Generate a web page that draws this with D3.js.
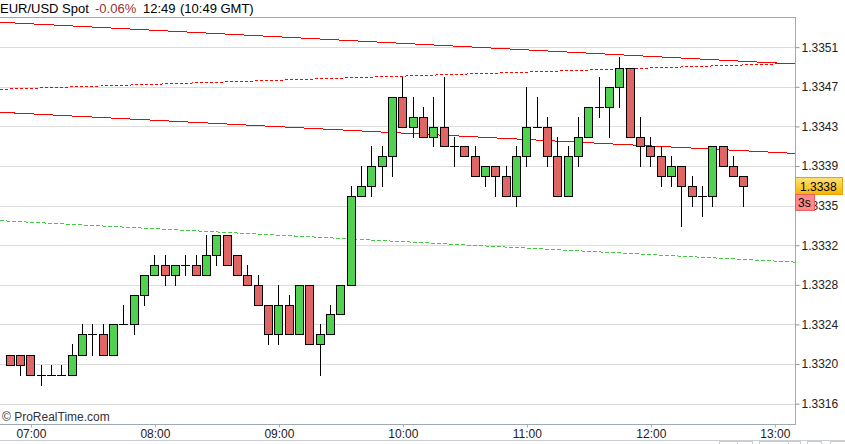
<!DOCTYPE html>
<html><head><meta charset="utf-8">
<script src="https://cdn.jsdelivr.net/npm/d3@7"></script>
<style>
body{margin:0;background:#fff;}
svg{display:block;font-family:"Liberation Sans",Arial,sans-serif;}
</style>
</head><body>
<svg id="c" width="845" height="444"></svg>
<script>
// ---------- DATA ----------
const times = ["06:50","06:55","07:00","07:05","07:10","07:15","07:20","07:25","07:30","07:35","07:40","07:45","07:50","07:55",
"08:00","08:05","08:10","08:15","08:20","08:25","08:30","08:35","08:40","08:45","08:50","08:55",
"09:00","09:05","09:10","09:15","09:20","09:25","09:30","09:35","09:40","09:45","09:50","09:55",
"10:00","10:05","10:10","10:15","10:20","10:25","10:30","10:35","10:40","10:45","10:50","10:55",
"11:00","11:05","11:10","11:15","11:20","11:25","11:30","11:35","11:40","11:45","11:50","11:55",
"12:00","12:05","12:10","12:15","12:20","12:25","12:30","12:35","12:40","12:45"];
const opens = [1.33211,1.33211,1.33211,1.33191,1.33191,1.33191,1.33191,1.33211,1.33231,1.33231,1.33211,1.33241,1.33241,1.33270,
1.33290,1.33300,1.33290,1.33300,1.33300,1.33290,1.33310,1.33330,1.33310,1.33290,1.33280,1.33260,
1.33231,1.33260,1.33231,1.33280,1.33221,1.33231,1.33251,1.33280,1.33369,1.33379,1.33399,1.33409,
1.33468,1.33438,1.33448,1.33428,1.33438,1.33419,1.33419,1.33409,1.33389,1.33399,1.33389,1.33369,
1.33409,1.33438,1.33438,1.33409,1.33369,1.33409,1.33428,1.33458,1.33458,1.33478,1.33497,1.33428,
1.33419,1.33409,1.33389,1.33399,1.33379,1.33369,1.33369,1.33419,1.33399,1.33389];
const highs = [1.33211,1.33211,1.33211,1.33201,1.33201,1.33201,1.33221,1.33241,1.33241,1.33241,1.33241,1.33260,1.33270,1.33290,
1.33310,1.33310,1.33300,1.33310,1.33310,1.33330,1.33330,1.33330,1.33310,1.33300,1.33290,1.33260,
1.33280,1.33270,1.33280,1.33280,1.33241,1.33260,1.33280,1.33379,1.33399,1.33419,1.33419,1.33468,
1.33488,1.33468,1.33458,1.33468,1.33488,1.33428,1.33419,1.33419,1.33399,1.33399,1.33399,1.33419,
1.33478,1.33468,1.33448,1.33428,1.33419,1.33448,1.33458,1.33488,1.33478,1.33508,1.33497,1.33448,
1.33428,1.33419,1.33409,1.33399,1.33389,1.33379,1.33419,1.33419,1.33409,1.33389];
const lows = [1.33201,1.33191,1.33191,1.33181,1.33191,1.33191,1.33191,1.33211,1.33211,1.33211,1.33211,1.33241,1.33231,1.33260,
1.33290,1.33280,1.33280,1.33290,1.33290,1.33290,1.33300,1.33300,1.33290,1.33280,1.33260,1.33221,
1.33221,1.33231,1.33231,1.33221,1.33191,1.33231,1.33251,1.33280,1.33369,1.33369,1.33379,1.33389,
1.33438,1.33428,1.33428,1.33419,1.33419,1.33399,1.33409,1.33389,1.33379,1.33369,1.33369,1.33359,
1.33399,1.33438,1.33399,1.33369,1.33369,1.33399,1.33428,1.33448,1.33428,1.33458,1.33428,1.33399,
1.33399,1.33379,1.33379,1.33339,1.33359,1.33349,1.33359,1.33399,1.33389,1.33359];
const closes = [1.33201,1.33201,1.33191,1.33191,1.33191,1.33191,1.33211,1.33231,1.33231,1.33211,1.33241,1.33241,1.33270,1.33290,
1.33300,1.33290,1.33300,1.33300,1.33290,1.33310,1.33330,1.33300,1.33290,1.33280,1.33260,1.33231,
1.33260,1.33231,1.33280,1.33221,1.33231,1.33251,1.33280,1.33369,1.33379,1.33399,1.33409,1.33468,
1.33438,1.33448,1.33428,1.33438,1.33419,1.33419,1.33409,1.33389,1.33399,1.33389,1.33369,1.33409,
1.33438,1.33438,1.33409,1.33369,1.33409,1.33428,1.33458,1.33458,1.33478,1.33497,1.33428,1.33419,
1.33409,1.33389,1.33399,1.33379,1.33369,1.33369,1.33419,1.33399,1.33389,1.33379];

const yTickValues = [1.33162,1.332015,1.33241,1.332805,1.3332,1.333595,1.33399,1.334385,1.33478,1.335175];
const yTickLabels = ["1.3316","1.3320","1.3324","1.3328","1.3332","1.3335","1.3339","1.3343","1.3347","1.3351"];
const xTickTimes = ["07:00","08:00","09:00","10:00","11:00","12:00","13:00"];

// trend lines: anchor times and prices
const lineTimes = ["07:00","13:00"];
const redTopLine = [1.335408, 1.335018];
const redMidLine = [1.334510, 1.334126];
const redDashLine = [1.334765, 1.335008];
const greenDashLine = [1.333429, 1.333042];

const lastPrice = "1.3338";
const lastValue = 1.33379;

// ---------- CHART ----------
const svg = d3.select("#c");
const W = 845, H = 444;
const plotL = 0, plotR = 795, plotT = 17, plotB = 424;
const parse = s => { const [h,m,sec] = s.split(":").map(Number); return new Date(2013,0,2,h,m,sec||0); };

const x = d3.scaleTime().domain([parse("06:45:03"), parse("13:09:44")]).range([plotL, plotR]);
const y = d3.scaleLinear().domain([1.331417, 1.335476]).range([plotB, plotT]);

svg.append("rect").attr("width",W).attr("height",H).attr("fill","#fff");

// gridlines
svg.append("g").selectAll("line").data(yTickValues).join("line")
  .attr("x1",plotL).attr("x2",plotR)
  .attr("y1",d=>Math.round(y(d))+0.5).attr("y2",d=>Math.round(y(d))+0.5)
  .attr("stroke","#dcdcdc").attr("stroke-width",1).attr("shape-rendering","crispEdges");

// trend lines
function drawLine(vals, color, dash){
  const x1 = x(parse(lineTimes[0])), x2 = x(parse(lineTimes[1]));
  const y1 = y(vals[0]), y2 = y(vals[1]);
  const k = (y2-y1)/(x2-x1);
  const g = svg.append("line")
    .attr("x1",plotL).attr("y1",y1 + k*(plotL-x1))
    .attr("x2",plotR).attr("y2",y1 + k*(plotR-x1))
    .attr("stroke",color).attr("stroke-width",1).attr("shape-rendering","crispEdges");
  if (dash) g.attr("stroke-dasharray",dash);
}
drawLine(greenDashLine, "#45c845", "4,2");
drawLine(redDashLine, "#ff0000", "3,2");
drawLine(redTopLine, "#ff0000", null);
drawLine(redMidLine, "#ff0000", null);

// candles
const candles = times.map((t,i)=>({t:parse(t), o:opens[i], h:highs[i], l:lows[i], c:closes[i]}));
const cg = svg.append("g").attr("shape-rendering","crispEdges");
candles.forEach(d=>{
  const cx = Math.floor(x(d.t));
  const yh = Math.round(y(d.h)), yl = Math.round(y(d.l));
  const yo = Math.round(y(d.o)), yc = Math.round(y(d.c));
  cg.append("line").attr("x1",cx+0.5).attr("x2",cx+0.5).attr("y1",yh).attr("y2",yl+1)
    .attr("stroke","#000").attr("stroke-width",1);
  if (yo === yc) {
    cg.append("line").attr("x1",cx-4).attr("x2",cx+5).attr("y1",yo+0.5).attr("y2",yo+0.5)
      .attr("stroke","#000").attr("stroke-width",1);
  } else {
    const top = Math.min(yo,yc), bot = Math.max(yo,yc);
    cg.append("rect").attr("x",cx-3.5).attr("y",top+0.5).attr("width",8).attr("height",bot-top)
      .attr("fill", d.c > d.o ? "#50d250" : "#e06666").attr("stroke","#000").attr("stroke-width",1);
  }
});

// frame
const frameColor = "#9eabb5";
svg.append("line").attr("x1",0).attr("x2",plotR).attr("y1",plotT+0.5).attr("y2",plotT+0.5).attr("stroke",frameColor).attr("shape-rendering","crispEdges");
svg.append("line").attr("x1",plotR+0.5).attr("x2",plotR+0.5).attr("y1",plotT).attr("y2",plotB+1).attr("stroke",frameColor).attr("shape-rendering","crispEdges");
svg.append("line").attr("x1",0).attr("x2",plotR+1).attr("y1",plotB+0.5).attr("y2",plotB+0.5).attr("stroke",frameColor).attr("shape-rendering","crispEdges");

// right axis
const yAxis = d3.axisRight(y).tickValues(yTickValues).tickFormat((d,i)=>yTickLabels[i]).tickSize(4).tickPadding(2);
const ya = svg.append("g").attr("transform",`translate(${plotR+0.5},0)`).call(yAxis);
ya.select(".domain").remove();
ya.selectAll(".tick line").attr("stroke","#8a96a0");
ya.selectAll(".tick text").attr("font-size","12px").attr("fill","#222").attr("font-family","Liberation Sans, Arial, sans-serif");

// bottom axis
const xAxis = d3.axisBottom(x).tickValues(xTickTimes.map(parse)).tickFormat(d3.timeFormat("%H:%M")).tickSize(3).tickPadding(2);
const xa = svg.append("g").attr("transform",`translate(0,${plotB+0.5})`).call(xAxis);
xa.select(".domain").remove();
xa.selectAll(".tick line").attr("stroke","#9eabb5");
xa.selectAll(".tick text").attr("font-size","12px").attr("fill","#222").attr("font-family","Liberation Sans, Arial, sans-serif");

// last price labels
const ly = y(lastValue);
const lb = svg.append("g");
const grad = svg.append("defs").append("linearGradient").attr("id","gy").attr("x1",0).attr("y1",0).attr("x2",0).attr("y2",1);
grad.append("stop").attr("offset","0").attr("stop-color","#ffe27a");
grad.append("stop").attr("offset","1").attr("stop-color","#f5b400");
lb.append("rect").attr("x",plotR+0.5).attr("y",Math.round(ly)-8.5).attr("width",47).attr("height",17)
  .attr("fill","url(#gy)").attr("stroke","#e8a200").attr("shape-rendering","crispEdges");
lb.append("text").attr("x",plotR+5).attr("y",Math.round(ly)+4.5).attr("font-size","12px").attr("fill","#000").text(lastPrice);
lb.append("rect").attr("x",plotR+0.5).attr("y",Math.round(ly)+8.5).attr("width",19).attr("height",16)
  .attr("fill","#ff8a8a").attr("stroke","#f06060").attr("shape-rendering","crispEdges");
lb.append("text").attr("x",plotR+3).attr("y",Math.round(ly)+21).attr("font-size","12px").attr("fill","#000").text("3s");

// header
const hd = svg.append("text").attr("y",13).attr("font-size","13px").attr("fill","#000");
hd.append("tspan").attr("x",0).text("EUR/USD Spot");
hd.append("tspan").attr("x",95).attr("fill","#9b3030").text("-0.06%");
hd.append("tspan").attr("x",143).text("12:49");
hd.append("tspan").attr("x",180).text("(10:49 GMT)");

// copyright
svg.append("text").attr("x",2).attr("y",421).attr("font-size","12px").attr("fill","#333").text("\u00a9 ProRealTime.com");

// bottom scrollbar strip
const sb = svg.append("g").attr("shape-rendering","crispEdges").attr("fill","none").attr("stroke","#c8ced3");
sb.append("line").attr("x1",0).attr("x2",W).attr("y1",440.5).attr("y2",440.5);
[[719,18],[737,15],[759,29],[788,12],[807,14],[830,15]].forEach(b=>{
  sb.append("rect").attr("x",b[0]+0.5).attr("y",441.5).attr("width",b[1]).attr("height",6);
});
</script>
</body></html>
